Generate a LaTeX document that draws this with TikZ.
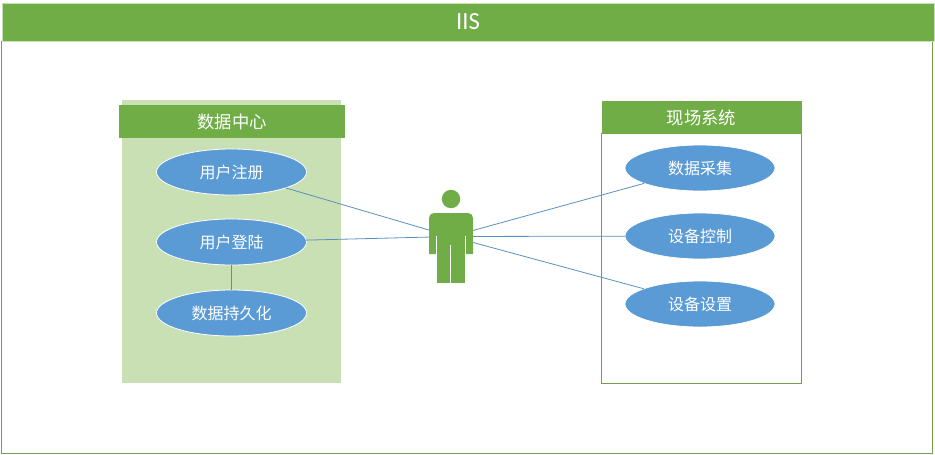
\documentclass[tikz,border=0pt]{standalone}
\usepackage{fontspec}
\usetikzlibrary{shapes.geometric}
\setmainfont{Noto Sans CJK SC}
\newfontfamily\titlefont{Carlito}
\definecolor{leafgreen}{HTML}{70AD47}
\definecolor{palegreen}{HTML}{C9E0B5}
\definecolor{caseblue}{HTML}{5B9BD5}
\definecolor{linkblue}{HTML}{5A8FBF}
\definecolor{framegreen}{HTML}{72A04C}
\begin{document}
\begin{tikzpicture}[
        x=0.75pt, y=-0.75pt,
        every node/.style={inner sep=0pt, outer sep=0pt, text=white},
        banner/.style={fill=leafgreen, font=\fontsize{13}{15}\selectfont},
        usecase/.style={ellipse, fill=caseblue, draw=white, line width=0.6pt, minimum width=112.5pt, minimum height=34.5pt, font=\fontsize{12}{14}\selectfont},
        link/.style={draw=linkblue, line width=0.6pt}
    ]
        \useasboundingbox (0,0) rectangle (935,454);

        \node[draw=framegreen, line width=0.75pt, minimum width=698.5pt, minimum height=309pt] (frame) at (467,247) {};
        \node[fill=leafgreen, draw=palegreen, line width=0.5pt, minimum width=699pt, minimum height=28.5pt, font=\titlefont\fontsize{18.5}{20}\selectfont] (title) at (468,22) {IIS};

        % left group
        \node[fill=palegreen, minimum width=164pt, minimum height=212pt] (centerpanel) at (231.5,241.5) {};
        \node[banner, minimum width=169.5pt, minimum height=25pt] (centerhead) at (232,121.5) {数据中心};
        \node[usecase] (register) at (231.5,172) {用户注册};
        \node[usecase, node distance=52.5pt, below of=register] (login) {用户登陆};
        \node[usecase, node distance=53.25pt, below of=login] (persist) {数据持久化};

        % right group
        \node[draw=framegreen, line width=0.75pt, minimum width=149.5pt, minimum height=187pt] (sitepanel) at (701.5,258.5) {};
        \node[banner, minimum width=150pt, minimum height=25pt] (sitehead) at (701.5,117.5) {现场系统};
        \node[usecase] (collect) at (700,168) {数据采集};
        \node[usecase, node distance=51pt, below of=collect] (control) {设备控制};
        \node[usecase, node distance=51pt, below of=control] (setting) {设备设置};

        % the actor
        \node[minimum width=33pt, minimum height=70pt] (actor) at (451,236.5) {};
        \fill[leafgreen] (451,199) circle (6.9pt);
        \fill[leafgreen] (429,254) -- (429,218) arc (180:270:5) -- (468,213) arc (270:360:5) -- (473,254) -- cycle;
        \fill[leafgreen] (437,230) rectangle (465,283);
        \fill[white] (436.3,236) rectangle (437.3,255);
        \fill[white] (464.7,236) rectangle (465.7,255);
        \fill[white] (450.2,245) rectangle (451.2,284);

        \path[link] (register) -- (actor);
        \path[link] (login) -- (actor);
        \path[link] (login) -- (persist);
        \path[link] (actor) -- (collect);
        \path[link] (actor) -- (control);
        \path[link] (actor) -- (setting);
    \end{tikzpicture}
\end{document}
